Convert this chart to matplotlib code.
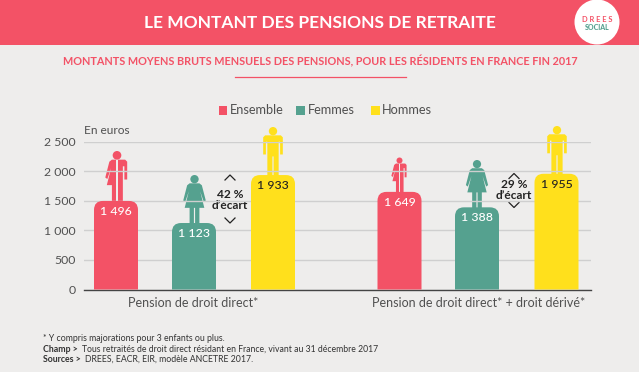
import matplotlib
matplotlib.use('Agg')
import matplotlib.pyplot as plt
from matplotlib.patches import Circle, PathPatch, Polygon, Rectangle
from matplotlib.path import Path

plt.rcParams['font.family'] = ['Lato', 'DejaVu Sans']

W, H = 639, 372
RED = '#f35266'
GREEN = '#55a18f'
YELLOW = '#ffe01c'
BG = '#eeedec'
TXT = '#505050'

groups = ['Pension de droit direct*', 'Pension de droit direct* + droit dérivé*']
series = ['Ensemble', 'Femmes', 'Hommes']
group1 = [1496, 1123, 1933]
group2 = [1649, 1388, 1955]
labels1 = ['1 496', '1 123', '1 933']
labels2 = ['1 649', '1 388', '1 955']
yticks = [0, 500, 1000, 1500, 2000, 2500]
ytick_labels = ['0', '500', '1 000', '1 500', '2 000', '2 500']
ecarts = ['42 %', '29 %']

colors = [RED, GREEN, YELLOW]
label_colors = ['white', 'white', '#222222']
bar_x1 = [116, 194, 273]
bar_x2 = [399.5, 477, 556.5]
bar_w = 44

# repere plein cadre en pixels pour le decor
fig = plt.figure(figsize=(W / 100, H / 100), dpi=100, facecolor=BG)
bg = fig.add_axes([0, 0, 1, 1])
bg.set_xlim(0, W)
bg.set_ylim(H, 0)
bg.axis('off')

# axes du graphique : x en pixels, y en euros
ax = fig.add_axes([84 / W, 1 - 289.5 / H, (591 - 84) / W, 148 / H])
ax.patch.set_alpha(0)
ax.set_xlim(84, 591)
ax.set_ylim(0, 2500)
for s in ['top', 'right', 'left']:
    ax.spines[s].set_visible(False)
ax.spines['bottom'].set_color('#444444')
ax.spines['bottom'].set_linewidth(1)
ax.set_yticks(yticks, ytick_labels)
ax.set_xticks([])
ax.tick_params(axis='y', length=0, pad=6, labelsize=8.8, labelcolor=TXT)
ax.yaxis.grid(True, color='#cfcfcf', lw=1)
ax.set_axisbelow(True)


def to_py(v):
    return 289.5 - v * 148 / 2500


def rounded_bar(x, v, color):
    # barre a coins superieurs arrondis (rayon en pixels)
    r = 9
    ry = r * 2500 / 148
    x0, x1 = x - bar_w / 2, x + bar_w / 2
    verts = [(x0, 0), (x0, v - ry), (x0, v), (x0 + r, v), (x1 - r, v), (x1, v), (x1, v - ry), (x1, 0), (x0, 0)]
    codes = [Path.MOVETO, Path.LINETO, Path.CURVE3, Path.CURVE3, Path.LINETO,
             Path.CURVE3, Path.CURVE3, Path.LINETO, Path.CLOSEPOLY]
    ax.add_patch(PathPatch(Path(verts, codes), fc=color, ec='none', zorder=3))


MAN = [(-.20, .21), (-.16, .17), (.16, .17), (.20, .21), (.20, .56), (.145, .56), (.145, .30),
       (.115, .30), (.115, 1), (.012, 1), (.012, .60), (-.012, .60), (-.012, 1), (-.115, 1),
       (-.115, .30), (-.145, .30), (-.145, .56), (-.20, .56)]
WOMAN = [(-.10, .17), (.10, .17), (.15, .21), (.23, .52), (.19, .55), (.115, .33), (.20, .67),
         (.10, .67), (.10, 1), (.012, 1), (.012, .67), (-.012, .67), (-.012, 1), (-.10, 1),
         (-.10, .67), (-.20, .67), (-.115, .33), (-.19, .55), (-.23, .52), (-.15, .21)]


def person(kind, cx, top, v, color):
    bottom = to_py(v) + 1
    h = bottom - top

    def add(shape, clip=None):
        pts = [(cx + a * h, top + b * h) for a, b in shape]
        poly = Polygon(pts, closed=True, fc=color, ec='none', zorder=4)
        bg.add_patch(poly)
        if clip is not None:
            poly.set_clip_path(clip)

    bg.add_patch(Circle((cx, top + .085 * h), .085 * h, fc=color, ec='none', zorder=4))
    if kind == 'man':
        add(MAN)
    elif kind == 'woman':
        add(WOMAN)
    else:
        # moitie femme / moitie homme
        left = Rectangle((cx - h, top), h - .012 * h, h * 1.1, transform=bg.transData)
        right = Rectangle((cx + .012 * h, top), h, h * 1.1, transform=bg.transData)
        add(WOMAN, left)
        add(MAN, right)


for xs, vals, labs in [(bar_x1, group1, labels1), (bar_x2, group2, labels2)]:
    for x, v, lab, c, lc in zip(xs, vals, labs, colors, label_colors):
        rounded_bar(x, v, c)
        ax.text(x, v - 180, lab, ha='center', va='center', fontsize=8.9, color=lc,
                fontweight='medium', zorder=5)

person('both', 117, 151, group1[0], RED)
person('woman', 194.5, 175, group1[1], GREEN)
person('man', 273, 127, group1[2], YELLOW)
person('both', 399.5, 157.5, group2[0], RED)
person('woman', 477, 160, group2[1], GREEN)
person('man', 557, 126, group2[2], YELLOW)


def chevron(x, y, up):
    d = -2.5 if up else 2.5
    bg.plot([x - 5, x, x + 5], [y - d, y + d, y - d], color='#222222', lw=0.9, zorder=5)


for x, y_up, y_down, y_txt, e in [(230, 177.5, 220.5, 195, ecarts[0]), (514, 176, 205, 185, ecarts[1])]:
    chevron(x, y_up, True)
    chevron(x, y_down, False)
    bg.text(x, y_txt, e, ha='center', va='center', fontsize=8.6, fontweight='bold', color='#222222', zorder=6)
    bg.text(x, y_txt + 10.5, 'd’écart', ha='center', va='center', fontsize=8.6, fontweight='bold',
            color='#222222', zorder=6)

# bandeau et logo
bg.add_patch(Rectangle((0, 0), W, 45, fc=RED, ec='none'))
bg.text(320, 22.5, 'LE MONTANT DES PENSIONS DE RETRAITE', ha='center', va='center',
        fontsize=12.5, fontweight='bold', color='white')
bg.add_patch(Circle((597, 22), 22.5, fc='white', ec='none', zorder=3))
bg.text(597, 19.5, 'D R E E S', ha='center', va='center', fontsize=5.4, color=RED, fontweight='bold', zorder=4)
bg.text(597, 28, 'SOCIAL', ha='center', va='center', fontsize=5, color=GREEN, fontweight='black', zorder=4)

bg.text(320, 61.5, 'MONTANTS MOYENS BRUTS MENSUELS DES PENSIONS, POUR LES RÉSIDENTS EN FRANCE FIN 2017',
        ha='center', va='center', fontsize=7.8, fontweight='bold', color=RED)
bg.plot([235, 406], [77, 77], color=RED, lw=0.9)

# legende
for sx, tx, name, c in zip([218.5, 296, 371], [230, 308, 382], series, colors):
    bg.add_patch(Rectangle((sx, 106), 8.5, 8.5, fc=c, ec='none'))
    bg.text(tx, 110.5, name, ha='left', va='center', fontsize=9.2, color=TXT)

bg.text(83.5, 130, 'En euros', ha='left', va='center', fontsize=8.6, color=TXT)
bg.text(193.5, 303, groups[0], ha='center', va='center', fontsize=9, color=TXT)
bg.text(478.5, 303, groups[1], ha='center', va='center', fontsize=9, color=TXT)

# notes
bg.text(43, 338.5, '* Y compris majorations pour 3 enfants ou plus.', ha='left', va='center', fontsize=6.3, color='#333333')
bg.text(43, 349, 'Champ >', ha='left', va='center', fontsize=6.3, fontweight='bold', color='#333333')
bg.text(82.5, 349, 'Tous retraités de droit direct résidant en France, vivant au 31 décembre 2017',
        ha='left', va='center', fontsize=6.25, color='#333333')
bg.text(43, 359, 'Sources >', ha='left', va='center', fontsize=6.3, fontweight='bold', color='#333333')
bg.text(85, 359, 'DREES, EACR, EIR, modèle ANCETRE 2017.', ha='left', va='center', fontsize=6.3, color='#333333')

fig.savefig('out.png', dpi=100, facecolor=BG)
